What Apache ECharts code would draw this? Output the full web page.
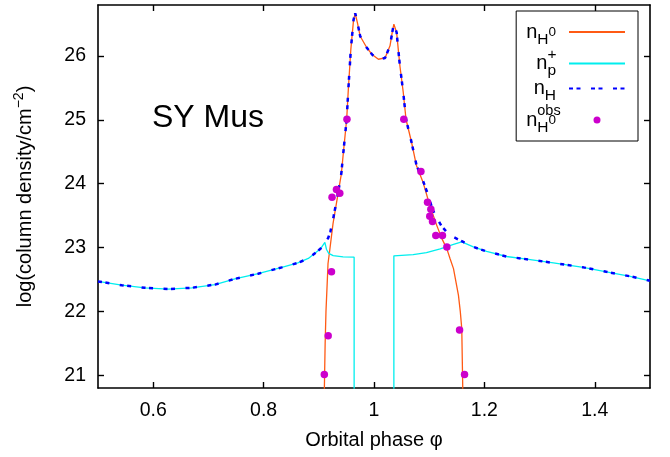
<!DOCTYPE html>
<html><head><meta charset="utf-8">
<script src="https://cdn.jsdelivr.net/npm/echarts@6/dist/echarts.min.js"></script>
<style>html,body{margin:0;padding:0;background:#fff}#c{width:670px;height:457px}</style>
</head><body><div id="c"></div>
<script>
// ---- tick labels ----
const xTicks = [0.6, 0.8, 1.0, 1.2, 1.4];
const yTicks = [21, 22, 23, 24, 25, 26];

// ---- n_p+ (ionized) : two branches ----
const npLeftPhi = [0.500,0.543,0.585,0.627,0.670,0.712,0.748,0.790,0.833,0.862,0.881,0.893,0.903,0.911,0.914,0.918,0.926,0.944,0.964,0.964];
const npLeftVal = [22.47,22.41,22.37,22.35,22.37,22.42,22.51,22.59,22.69,22.76,22.83,22.91,22.98,23.08,22.97,22.91,22.875,22.855,22.85,20.0];
const npRightPhi = [1.036,1.036,1.071,1.095,1.120,1.144,1.159,1.180,1.204,1.240,1.283,1.325,1.379,1.421,1.464,1.500];
const npRightVal = [20.0,22.87,22.89,22.92,22.98,23.05,23.09,23.01,22.94,22.86,22.81,22.76,22.69,22.62,22.55,22.48];

// ---- n_H0 (neutral) ----
const nh0Phi = [0.9095,0.9105,0.9115,0.9130,0.9150,0.9167,0.9197,0.9257,0.9348,0.9408,0.9440,0.9505,0.9535,0.9580,0.9630,0.9660,0.9700,0.9750,0.9870,0.9970,1.0080,1.0200,1.0290,1.0330,1.0360,1.0410,1.0440,1.0470,1.0530,1.0580,1.0680,1.0770,1.0890,1.1010,1.1140,1.1230,1.1320,1.1380,1.1440,1.1530,1.1563,1.1590,1.1607,1.1610];
const nh0Val = [20.5,21.0,21.5,22.0,22.4,22.75,22.95,23.37,23.84,24.15,24.44,25.01,25.48,26.10,26.57,26.67,26.52,26.31,26.13,26.02,25.95,25.97,26.16,26.37,26.50,26.37,26.10,25.84,25.43,25.01,24.65,24.28,24.02,23.66,23.34,23.14,22.98,22.82,22.67,22.25,22.00,21.73,20.84,20.5];

// ---- n_H (total) ----
const nhPhi = [0.500,0.543,0.585,0.627,0.670,0.712,0.748,0.790,0.833,0.862,0.881,0.893,0.903,0.911,0.917,0.921,0.926,0.935,0.9408,0.944,0.9505,0.9535,0.958,0.963,0.966,0.970,0.975,0.987,0.997,1.008,1.020,1.029,1.033,1.036,1.041,1.044,1.047,1.053,1.058,1.068,1.077,1.089,1.097,1.106,1.114,1.122,1.131,1.145,1.159,1.180,1.204,1.240,1.283,1.325,1.379,1.421,1.464,1.500];
const nhVal = [22.47,22.41,22.37,22.35,22.37,22.42,22.51,22.59,22.69,22.76,22.83,22.91,22.98,23.08,23.15,23.25,23.45,23.86,24.16,24.45,25.01,25.48,26.10,26.57,26.67,26.52,26.31,26.13,26.02,25.95,25.97,26.16,26.37,26.50,26.37,26.10,25.84,25.43,25.01,24.65,24.29,24.04,23.85,23.60,23.46,23.34,23.25,23.16,23.10,23.01,22.94,22.86,22.81,22.76,22.69,22.62,22.55,22.48];

// ---- observed n_H0 ----
const obsPhi = [0.910,0.917,0.923,0.924,0.932,0.938,0.951,1.054,1.085,1.097,1.101,1.103,1.106,1.112,1.124,1.132,1.155,1.164];
const obsVal = [21.01,21.62,22.62,23.79,23.91,23.85,25.01,25.01,24.19,23.71,23.49,23.60,23.41,23.19,23.19,23.01,21.71,21.01];

const pairs = (a, b) => a.map((x, i) => [x, b[i]]);
const FONT = '"Liberation Sans", Arial, Helvetica, sans-serif';

const npData = pairs(npLeftPhi, npLeftVal).concat([[1.0, null]], pairs(npRightPhi, npRightVal));

const legendLabels = {
  'n_H0': '{n|n}{sb|H}{s0|0}{gp| }',
  'n_p+': '{n|n}{sp|+}{sb|p}{gp| }',
  'n_H': '{n|n}{sb|H}{gp| }',
  'n_H0_obs': '{n|n}{so|obs}{sb|H}{s0|0}{gp| }'
};

const axisBase = {
  type: 'value', min: 0.5, max: 1.5,
  axisLine: { onZero: false, lineStyle: { color: '#000', width: 1.6 } },
  axisTick: { inside: true, length: 6, customValues: xTicks, lineStyle: { color: '#000', width: 1.4 } },
  splitLine: { show: false }
};
const tok = (o) => Object.assign({ fontFamily: FONT, color: '#000', align: 'left' }, o);

const chart = echarts.init(document.getElementById('c'));
chart.setOption({
  animation: false,
  textStyle: { fontFamily: FONT },
  grid: { left: 98, right: 20, top: 5, bottom: 69 },
  xAxis: [
    Object.assign({}, axisBase, {
      position: 'bottom',
      axisLabel: { customValues: xTicks, formatter: v => String(Math.round(v * 10) / 10), fontSize: 19.5, color: '#000', margin: 13, fontFamily: FONT },
      name: 'Orbital phase φ', nameLocation: 'middle', nameGap: 42,
      nameTextStyle: { fontSize: 20, color: '#000', fontFamily: FONT }
    }),
    Object.assign({}, axisBase, { position: 'top', axisLabel: { show: false } })
  ],
  yAxis: [
    {
      type: 'value', min: 20.8, max: 26.8, position: 'left',
      axisLine: { onZero: false, lineStyle: { color: '#000', width: 1.6 } },
      axisTick: { inside: true, length: 6, customValues: yTicks, lineStyle: { color: '#000', width: 1.4 } },
      axisLabel: { customValues: yTicks, fontSize: 19.5, color: '#000', margin: 12, fontFamily: FONT },
      splitLine: { show: false },
      name: '{m|log(column density/cm}{sup|−2}{m|)}', nameLocation: 'middle', nameGap: 60, nameRotate: 90,
      nameTextStyle: {
        color: '#000', fontFamily: FONT,
        rich: {
          m: { fontSize: 20, lineHeight: 26, verticalAlign: 'middle', fontFamily: FONT, color: '#000' },
          sup: { fontSize: 14, lineHeight: 10, verticalAlign: 'top', fontFamily: FONT, color: '#000' }
        }
      }
    },
    {
      type: 'value', min: 20.8, max: 26.8, position: 'right',
      axisLine: { onZero: false, lineStyle: { color: '#000', width: 1.6 } },
      axisTick: { inside: true, length: 6, customValues: yTicks, lineStyle: { color: '#000', width: 1.4 } },
      axisLabel: { show: false },
      splitLine: { show: false }
    }
  ],
  legend: {
    orient: 'vertical', right: 32, top: 11, align: 'right', selectedMode: false,
    backgroundColor: '#fff', borderColor: '#000', borderWidth: 1, borderRadius: 0,
    padding: [11, 12, 5.5, 10], itemGap: -0.4, itemWidth: 56, itemHeight: 7,
    data: [
      { name: 'n_H0', itemStyle: { opacity: 0 } },
      { name: 'n_p+', itemStyle: { opacity: 0 } },
      { name: 'n_H', itemStyle: { opacity: 0 } },
      { name: 'n_H0_obs', icon: 'circle' }
    ],
    formatter: name => legendLabels[name],
    textStyle: {
      color: '#000', fontFamily: FONT,
      rich: {
        n: tok({ fontSize: 20, lineHeight: 26, verticalAlign: 'middle' }),
        sb: tok({ fontSize: 15.5, verticalAlign: 'bottom', padding: [0, 0, -2.5, 0] }),
        s0: tok({ fontSize: 13.5, verticalAlign: 'middle' }),
        sp: tok({ fontSize: 15.5, width: 0, verticalAlign: 'top', padding: [-3.3, 0, 0, 0] }),
        so: tok({ fontSize: 14.5, width: 0, verticalAlign: 'top', padding: [-3.4, 0, 0, 0] }),
        gp: tok({ width: 8, fontSize: 10 })
      }
    }
  },
  graphic: [{
    type: 'text', x: 152, y: 118,
    style: { text: 'SY Mus', fontSize: 32, fontFamily: FONT, fill: '#000', align: 'left', verticalAlign: 'middle' }
  }],
  series: [
    { name: 'n_H0', type: 'line', data: pairs(nh0Phi, nh0Val), showSymbol: false, symbol: 'none',
      lineStyle: { color: '#ff5a14', width: 1.3 }, itemStyle: { color: '#ff5a14' }, clip: true, z: 2 },
    { name: 'n_p+', type: 'line', data: npData, showSymbol: false, symbol: 'none', connectNulls: false,
      lineStyle: { color: '#00eeee', width: 1.3 }, itemStyle: { color: '#00eeee' }, clip: true, z: 3 },
    { name: 'n_H', type: 'line', data: pairs(nhPhi, nhVal), showSymbol: false, symbol: 'none',
      lineStyle: { color: '#0000ff', width: 2.5, type: [4, 3.5, 4, 10.5] }, itemStyle: { color: '#0000ff' }, clip: true, z: 4 },
    { name: 'n_H0_obs', type: 'scatter', data: pairs(obsPhi, obsVal), symbol: 'circle', symbolSize: 7.5,
      itemStyle: { color: '#cc00cc', opacity: 1 }, clip: true, z: 5 }
  ]
});
</script></body></html>
